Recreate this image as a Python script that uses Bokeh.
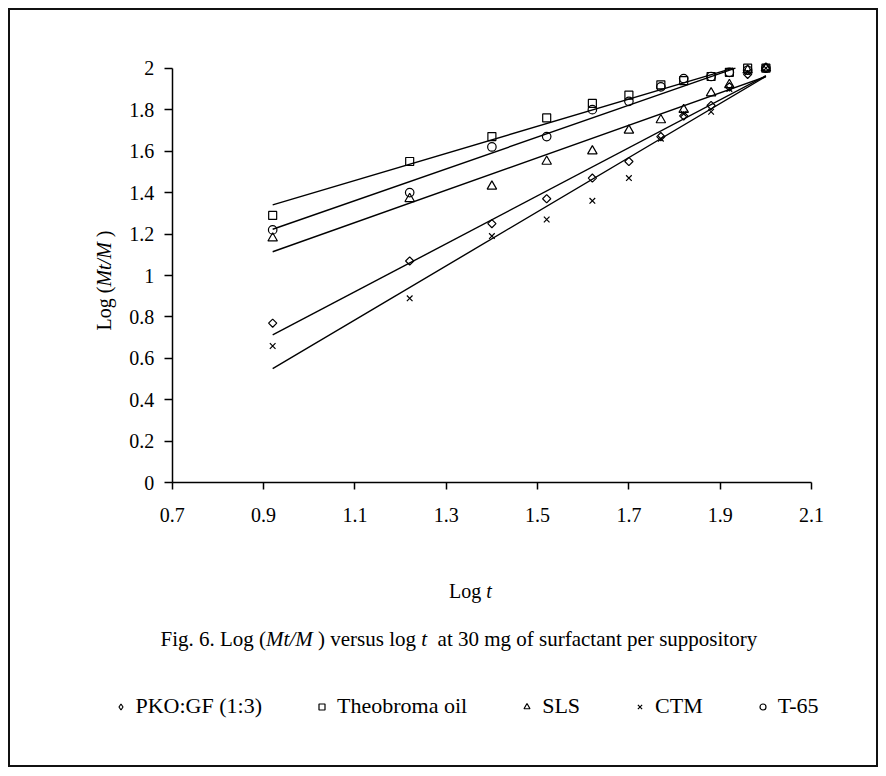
import numpy as np
from bokeh.plotting import figure
from bokeh.models import Range1d, FixedTicker, Label, Legend, LegendItem
from bokeh.embed import file_html
from bokeh.resources import INLINE

# ---------------- data ----------------
log_t = [0.92, 1.22, 1.40, 1.52, 1.62, 1.70, 1.77, 1.82, 1.88, 1.92, 1.96, 2.00]
pko_gf = [0.77, 1.07, 1.25, 1.37, 1.47, 1.55, 1.67, 1.77, 1.82, 1.91, 1.97, 2.00]
theobroma = [1.29, 1.55, 1.67, 1.76, 1.83, 1.87, 1.92, 1.94, 1.96, 1.98, 2.00, 2.00]
sls = [1.18, 1.37, 1.43, 1.55, 1.60, 1.70, 1.75, 1.80, 1.88, 1.92, 1.99, 2.00]
ctm = [0.66, 0.89, 1.19, 1.27, 1.36, 1.47, 1.66, 1.78, 1.79, 1.90, 1.98, 2.00]
t65 = [1.22, 1.40, 1.62, 1.67, 1.80, 1.84, 1.91, 1.95, 1.96, 1.98, 1.99, 2.00]
series_names = ["PKO:GF (1:3)", "Theobroma oil", "SLS", "CTM", "T-65"]

x_ticks = [0.7, 0.9, 1.1, 1.3, 1.5, 1.7, 1.9, 2.1]
x_tick_labels = ["0.7", "0.9", "1.1", "1.3", "1.5", "1.7", "1.9", "2.1"]
y_ticks = [0, 0.2, 0.4, 0.6, 0.8, 1, 1.2, 1.4, 1.6, 1.8, 2]
y_tick_labels = ["0", "0.2", "0.4", "0.6", "0.8", "1", "1.2", "1.4", "1.6", "1.8", "2"]

FONT = "Liberation Serif"

# Times metrics (per 1000 em) for placing mixed regular/italic pieces
REG = {" ": 250, "(": 333, ")": 333, ".": 250, "/": 278, ":": 278, "-": 333,
       "F": 556, "L": 611, "M": 889, "i": 278, "g": 500, "o": 500, "v": 500,
       "e": 444, "r": 333, "s": 389, "u": 500, "l": 278, "t": 278, "a": 444,
       "m": 778, "f": 333, "c": 444, "n": 500, "p": 500, "y": 500}
ITA = {"M": 833, "t": 278, "/": 278, " ": 250}


def text_width(s, italic, size):
    table = ITA if italic else REG
    return sum(table.get(ch, 500) for ch in s) * size / 1000.0


# ---------------- page geometry (pixels) ----------------
CX0, CY0 = 10, 10          # canvas origin on the page
CW, CH = 866, 755          # canvas size
FL, FB = 171.7, 482.3      # page position of x=0.7 and y=0
XS, YS = 456.7, 207.3      # pixels per data unit

x_range = Range1d(0.7 - (FL - CX0) / XS, 0.7 + (CX0 + CW - FL) / XS)
y_range = Range1d(-(CY0 + CH - FB) / YS, (FB - CY0) / YS)

p = figure(frame_width=CW, frame_height=CH, x_range=x_range, y_range=y_range,
           output_backend="svg", toolbar_location=None,
           min_border_left=0, min_border_right=0, min_border_top=0, min_border_bottom=0)
p.styles = {"border": "2px solid #111111", "margin": "8px 0 0 8px"}
p.grid.visible = False
p.outline_line_color = None
p.background_fill_color = "white"
p.border_fill_color = "white"

for ax, ticks, labels in ((p.xaxis[0], x_ticks, x_tick_labels), (p.yaxis[0], y_ticks, y_tick_labels)):
    ax.ticker = FixedTicker(ticks=ticks)
    ax.major_label_overrides = dict(zip(ticks, labels))
    ax.minor_tick_line_color = None
    ax.major_tick_in = 0
    ax.axis_line_color = "black"
    ax.axis_line_width = 1.5
    ax.major_tick_line_color = "black"
    ax.major_tick_line_width = 1.5
    ax.major_label_text_font = FONT
    ax.major_label_text_font_size = "20px"
    ax.major_label_text_color = "black"

p.xaxis.fixed_location = 0
p.yaxis.fixed_location = 0.7
p.xaxis.bounds = (0.7, 2.1)
p.yaxis.bounds = (0, 2)
p.xaxis.major_tick_out = 7
p.yaxis.major_tick_out = 8
p.xaxis.major_label_standoff = 18
p.yaxis.major_label_standoff = 10

series = [pko_gf, theobroma, sls, ctm, t65]
# (plot marker, size, angle, legend marker)
marker_specs = [("square", 5.8, np.pi / 4, "diamond"), ("square", 8, 0, "square"),
                ("triangle", 9.5, 0, "triangle"), ("x", 8, 0, "x"), ("circle", 8.5, 0, "circle")]

items = []
for name, vals, (mk, sz, ang, lmk) in zip(series_names, series, marker_specs):
    r = p.scatter(log_t, vals, marker=mk, size=sz, angle=ang,
                  fill_color=None, line_color="black", line_width=1.2)
    if lmk != mk or ang != 0:
        # legend swatch only: a single undefined (NaN) point, nothing is plotted
        r_leg = p.scatter([np.nan], [np.nan], marker=lmk, size=sz, fill_color=None,
                          line_color="black", line_width=1.2)
        items.append(LegendItem(label=name, renderers=[r_leg]))
    else:
        items.append(LegendItem(label=name, renderers=[r]))
    m, b = np.polyfit(log_t, vals, 1)
    x0, x1 = log_t[0], log_t[-1]
    y1 = m * x1 + b
    if y1 > 2:
        x1 = (2 - b) / m
        y1 = 2
    p.line([x0, x1], [m * x0 + b, y1], line_color="black", line_width=1.4)

# legend: bottom-left corner given relative to the frame (= canvas)
legend = Legend(items=items, orientation="horizontal",
                location=(112.5 - CX0, (CY0 + CH) - 719),
                glyph_width=15, glyph_height=15, label_standoff=8, spacing=52,
                padding=0, margin=0, border_line_color=None, background_fill_alpha=0,
                label_text_font=FONT, label_text_font_size="22px", label_text_color="black")
p.add_layout(legend)


def place(pieces, start, baseline, size, vertical=False):
    pos = start
    for s, italic in pieces:
        lead = len(s) - len(s.lstrip(" "))
        shift = text_width(" " * lead, italic, size)
        txt = s.strip(" ")
        if vertical:
            lab = Label(x=baseline - CX0, y=(CY0 + CH) - (pos - shift),
                        x_units="screen", y_units="screen",
                        text=txt, angle=np.pi / 2, text_align="left", text_baseline="alphabetic")
            pos -= text_width(s, italic, size)
        else:
            lab = Label(x=pos + shift - CX0, y=(CY0 + CH) - baseline,
                        x_units="screen", y_units="screen",
                        text=txt, text_align="left", text_baseline="alphabetic")
            pos += text_width(s, italic, size)
        lab.text_font = FONT
        lab.text_font_size = f"{size}px"
        lab.text_color = "black"
        lab.text_font_style = "italic" if italic else "normal"
        p.add_layout(lab)


# y axis title (rotated)
place([("Log (", False), ("Mt/M", True), (" )", False)], 330, 103, 20, vertical=True)
# x axis title
place([("Log ", False), ("t", True)], 448.6, 590, 20)
# caption
place([("Fig. 6. Log (", False), ("Mt/M", True), (" ) versus log ", False), ("t", True),
       ("  at 30 mg of surfactant per suppository", False)], 160, 638, 21)

open("out.html", "w").write(file_html(p, INLINE))
